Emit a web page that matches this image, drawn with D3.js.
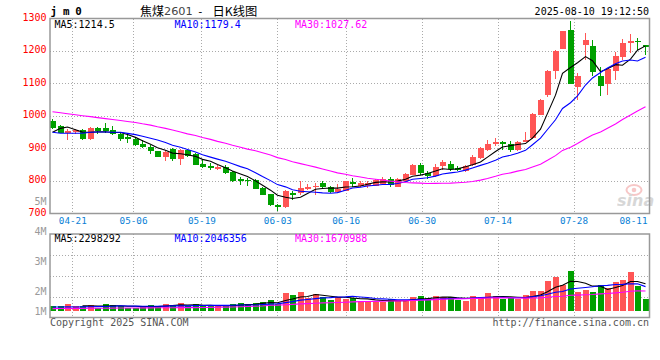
<!DOCTYPE html>
<html><head><meta charset="utf-8">
<script src="https://cdn.jsdelivr.net/npm/d3@7"></script>
<style>html,body{margin:0;padding:0;background:#fff}svg{display:block}</style>
</head><body>
<svg id="c" width="660" height="360"></svg>
<script>
// ---------- data ----------
const dates = ["04-16","04-17","04-18","04-21","04-22","04-23","04-24","04-25","04-28","04-29","04-30",
"05-06","05-07","05-08","05-09","05-12","05-13","05-14","05-15","05-16","05-19","05-20","05-21","05-22","05-23",
"05-26","05-27","05-28","05-29","05-30",
"06-03","06-04","06-05","06-06","06-09","06-10","06-11","06-12","06-13","06-16","06-17","06-18","06-19","06-20",
"06-23","06-24","06-25","06-26","06-27","06-30",
"07-01","07-02","07-03","07-04","07-07","07-08","07-09","07-10","07-11","07-14","07-15","07-16","07-17","07-18",
"07-21","07-22","07-23","07-24","07-25","07-28","07-29","07-30","07-31",
"08-01","08-04","08-05","08-06","08-07","08-08","08-11"];
const opens  = [986,969,948,951,957,930,963,962,957,945,936,930,915,906,892,874,898,868,895,882,852,846,838,844,829,805,804,802,779,759,
727,719,762,763,776,781,793,783,765,770,797,786,785,786,792,806,783,799,819,850,826,814,847,853,840,832,848,871,896,913,
921,915,894,921,932,1003,1066,1139,1207,1266,1090,1217,1214,1122,1098,1139,1182,1225,1232,1217];
const highs  = [991,972,960,961,959,966,966,979,969,948,941,934,927,912,893,895,902,898,899,887,865,854,848,848,832,813,809,806,781,760,
730,772,768,799,791,794,801,785,792,801,809,801,799,806,811,813,808,824,851,855,832,853,865,862,845,850,879,906,927,932,
924,922,923,952,1010,1051,1141,1202,1262,1291,1133,1256,1233,1151,1146,1197,1236,1253,1240,1218];
const lows   = [961,947,927,946,925,927,946,947,942,924,918,908,901,884,874,862,862,850,874,848,840,834,834,822,797,788,786,774,756,724,
707,718,743,758,771,756,775,763,764,768,783,781,778,784,788,781,781,797,818,819,807,811,834,832,830,829,846,868,893,909,
895,889,891,919,930,1002,1059,1113,1206,1097,1049,1171,1122,1062,1064,1110,1171,1194,1202,1187];
const closes = [964,949,954,956,929,963,954,955,946,929,930,911,905,892,875,890,867,895,877,850,844,839,844,826,800,800,800,776,758,725,
721,770,757,778,783,786,781,765,776,799,790,793,793,804,807,788,806,822,850,824,814,843,857,838,835,845,874,901,913,921,
913,896,919,927,1006,1049,1139,1200,1261,1098,1122,1233,1136,1093,1144,1184,1224,1230,1230,1211];
const volumes = [395000,395000,563000,395000,395000,479000,286000,563000,479000,395000,
286000,286000,395000,479000,395000,563000,479000,647000,395000,563000,
395000,395000,479000,395000,563000,672000,563000,672000,756000,899000,
563000,1513000,1319000,1597000,1126000,1403000,1176000,924000,1218000,1050000,
1092000,874000,874000,790000,790000,1050000,840000,840000,1210000,1235000,
1067000,1235000,1151000,1151000,958000,840000,1235000,1151000,1487000,1235000,
1008000,1067000,1008000,1319000,1655000,1655000,2496000,2832000,2160000,3361000,
1571000,1765000,1597000,2160000,1966000,2412000,2605000,3277000,2134000,1020000];
const ma5Lead  = [950,962,966,958];
const ma10Lead = [950,947,947,947,947,950,951,951,950];
const ma30Lead = [1013,1010,1007,1004,1001,998,995,992,989,986,983,980,976,972,967,962,957,951,945,940,934,928,922,916,910,904,898,893,887];
const volMa10Lead = [335000,338000,345000,342000,350000,360000,365000,380000,400000];
const volMa30Lead = [200000,205000,210000,215000,220000,225000,230000,235000,240000,248000,255000,258000,262000,265000,268000,272000,276000,280000,283000,287000,295000,305000,315000,328000,340000,360000,380000,400000,420000];

const priceTicks = [1300,1200,1100,1000,900,800,700];
const volTicks = [5,4,3,2,1];
const volTickLabels = ["5M","4M","3M","2M","1M"];
const dateTicks = ["04-21","05-06","05-19","06-03","06-16","06-30","07-14","07-28","08-11"];
const maLegend = ["MA5:1214.5","MA10:1179.4","MA30:1027.62"];
const volMaLegend = ["MA5:2298292","MA10:2046356","MA30:1670988"];
const titleCode = "j m 0";
const titleName = "焦煤";
const titleContract = "2601";
const titleSuffix = "日K线图";
const timestamp = "2025-08-10 19:12:50";
const copyright = "Copyright 2025 SINA.COM";
const url = "http://finance.sina.com.cn";

// ---------- layout ----------
const L = 50, R = 650, mainTop = 18.5, mainBot = 213.5, volTop = 234, volBot = 317.5, volBase = 311;
const RED = "#ff5555", GREEN = "#00a000", GRID = "#aaaaaa", BORDER = "#999999";
const MA_COLORS = ["#000000", "#0000ff", "#ff00ff"];
const MONO = "'DejaVu Sans Mono', monospace";

const svg = d3.select("#c");
const xb = d3.scaleBand().domain(dates).range([L, R]).paddingInner(0.2).paddingOuter(0.1).align(0);
const xp = d3.scalePoint().domain(dates).range([L, R]);
const y = d3.scaleLinear().domain([700, 1300]).range([mainBot, mainTop]);
const yv = d3.scaleLinear().domain([0, 6450000]).range([volBase, volTop + 0.3]);
const yvLabel = d3.scaleLinear().domain([2, 5]).range([294.7, 204.7]);

function ma(arr, n, lead) {
  return arr.map((_, i) => i >= n - 1 ? d3.mean(arr.slice(i - n + 1, i + 1)) : (lead ? lead[i] : null));
}
const cx = d => Math.round(xb(d)) + 2.5;

// ---------- grids ----------
const g = svg.append("g").attr("shape-rendering", "crispEdges");
// horizontal main grid
g.selectAll(".hg").data(priceTicks.slice(1, -1)).join("line")
  .attr("x1", L).attr("x2", R).attr("y1", v => Math.floor(y(v)) + 0.5).attr("y2", v => Math.floor(y(v)) + 0.5)
  .attr("stroke", GRID).attr("stroke-dasharray", "1,2");
// vertical grids both panels
const vx = d => Math.floor(xp(d)) + 0.5;
g.selectAll(".vg").data(dateTicks.slice(0, -1)).join("line")
  .attr("x1", vx).attr("x2", vx).attr("y1", mainTop).attr("y2", mainBot)
  .attr("stroke", GRID).attr("stroke-dasharray", "1,2");
g.selectAll(".vg2").data(dateTicks.slice(0, -1)).join("line")
  .attr("x1", vx).attr("x2", vx).attr("y1", volTop).attr("y2", volBot)
  .attr("stroke", GRID).attr("stroke-dasharray", "1,2");
// volume horizontal grid
g.selectAll(".vh").data([1, 2, 3]).join("line")
  .attr("x1", L).attr("x2", R)
  .attr("y1", k => Math.round(volTop + k * (volBot - volTop) / 4) + 0.5)
  .attr("y2", k => Math.round(volTop + k * (volBot - volTop) / 4) + 0.5)
  .attr("stroke", GRID).attr("stroke-dasharray", "1,2");

// ---------- watermark ----------
const wm = svg.append("g").attr("opacity", 0.55);
wm.append("ellipse").attr("cx", 634).attr("cy", 190).attr("rx", 7.5).attr("ry", 5)
  .attr("fill", "none").attr("stroke", "#f19a9a").attr("stroke-width", 2);
wm.append("circle").attr("cx", 634).attr("cy", 190).attr("r", 2.3).attr("fill", "#f19a9a");
wm.append("text").attr("x", 617).attr("y", 206).text("sina")
  .attr("font-family", "'DejaVu Sans', sans-serif").attr("font-weight", "bold").attr("font-style", "italic")
  .attr("font-size", 16).attr("fill", "#b8b8b8");

// ---------- candles ----------
const idx = d3.range(dates.length);
const cg = svg.append("g").attr("shape-rendering", "crispEdges");
const col = i => closes[i] >= opens[i] ? RED : GREEN;
cg.selectAll(".wick").data(idx).join("rect")
  .attr("x", i => Math.round(xb(dates[i])) + 2).attr("width", 1)
  .attr("y", i => Math.round(y(highs[i])))
  .attr("height", i => Math.max(1, Math.round(y(lows[i])) - Math.round(y(highs[i]))))
  .attr("fill", col);
cg.selectAll(".body").data(idx).join("rect")
  .attr("x", i => Math.round(xb(dates[i]))).attr("width", Math.round(xb.bandwidth()))
  .attr("y", i => Math.round(y(Math.max(opens[i], closes[i]))))
  .attr("height", i => Math.max(1, Math.round(y(Math.min(opens[i], closes[i]))) - Math.round(y(Math.max(opens[i], closes[i])))))
  .attr("fill", col);

// ---------- volume bars ----------
cg.selectAll(".vol").data(idx).join("rect")
  .attr("x", i => Math.round(xb(dates[i]))).attr("width", Math.round(xb.bandwidth()))
  .attr("y", i => Math.round(yv(volumes[i])))
  .attr("height", i => volBase - Math.round(yv(volumes[i])))
  .attr("fill", col);

// ---------- moving averages ----------
const priceMAs = [ma(closes, 5, ma5Lead), ma(closes, 10, ma10Lead), ma(closes, 30, ma30Lead)];
const volMAs = [ma(volumes, 5, null), ma(volumes, 10, volMa10Lead), ma(volumes, 30, volMa30Lead)];
const lineP = d3.line().defined(d => d[1] != null).x(d => cx(dates[d[0]])).y(d => y(d[1]));
const lineV = d3.line().defined(d => d[1] != null).x(d => cx(dates[d[0]])).y(d => yv(d[1]));
priceMAs.forEach((arr, k) => {
  svg.append("path").attr("d", lineP(arr.map((v, i) => [i, v])))
    .attr("fill", "none").attr("stroke", MA_COLORS[k]).attr("stroke-width", 1.1);
});
volMAs.forEach((arr, k) => {
  svg.append("path").attr("d", lineV(arr.map((v, i) => [i, v])))
    .attr("fill", "none").attr("stroke", MA_COLORS[k]).attr("stroke-width", 1.1);
});

// ---------- borders ----------
svg.append("rect").attr("x", L).attr("y", mainTop).attr("width", R - L - 0.5).attr("height", mainBot - mainTop)
  .attr("fill", "none").attr("stroke", BORDER).attr("stroke-width", 1.5);
svg.append("rect").attr("x", L).attr("y", volTop).attr("width", R - L - 0.5).attr("height", volBot - volTop)
  .attr("fill", "none").attr("stroke", BORDER).attr("stroke-width", 1.5);

// ---------- axis labels ----------
svg.selectAll(".pt").data(priceTicks).join("text")
  .attr("x", 46.5).attr("y", v => y(v) + 2).attr("text-anchor", "end")
  .attr("font-family", MONO).attr("font-size", 10).attr("fill", "#ff0000").text(v => v);
svg.selectAll(".vt").data(volTicks).join("text")
  .attr("x", 46.5).attr("y", v => Math.min(yvLabel(v), 314.7)).attr("text-anchor", "end")
  .attr("font-family", MONO).attr("font-size", 10).attr("fill", "#9a9a9a").text((v, i) => volTickLabels[i]);
svg.selectAll(".dt").data(dateTicks).join("text")
  .attr("x", d => Math.min(xp(d), 648 - 14.5)).attr("y", 224.3).attr("text-anchor", "middle")
  .attr("font-family", MONO).attr("font-size", 9.3).attr("fill", "#0a7fd6").text(d => d);

// ---------- legends ----------
const legX = [54.5, 174.5, 295];
maLegend.forEach((t, k) => svg.append("text").attr("x", legX[k]).attr("y", 28)
  .attr("font-family", MONO).attr("font-size", 10).attr("fill", MA_COLORS[k]).text(t));
volMaLegend.forEach((t, k) => svg.append("text").attr("x", legX[k]).attr("y", 242.3)
  .attr("font-family", MONO).attr("font-size", 10).attr("fill", MA_COLORS[k]).text(t));

// ---------- header ----------
svg.append("text").attr("x", 50.5).attr("y", 14.8).text(titleCode)
  .attr("font-family", MONO).attr("font-weight", "bold").attr("font-size", 10.8).attr("letter-spacing", -0.3).attr("fill", "#000");
const CJK = "'Noto Sans CJK SC', sans-serif";
svg.append("text").attr("x", 140).attr("y", 15.5).text(titleName)
  .attr("font-family", CJK).attr("font-size", 12).attr("fill", "#000");
svg.append("text").attr("x", 164).attr("y", 15).text(titleContract)
  .attr("font-family", "'DejaVu Sans', sans-serif").attr("font-size", 11.3).attr("fill", "#444");
svg.append("text").attr("x", 197).attr("y", 15).text("-")
  .attr("font-family", MONO).attr("font-size", 11).attr("fill", "#000");
svg.append("text").attr("x", 212.5).attr("y", 15.5).text(titleSuffix)
  .attr("font-family", CJK).attr("font-size", 12.3).attr("fill", "#000");
svg.append("text").attr("x", 649).attr("y", 15).attr("text-anchor", "end").text(timestamp)
  .attr("font-family", MONO).attr("font-size", 10).attr("fill", "#000");

// ---------- footer ----------
svg.append("text").attr("x", 50).attr("y", 325.5).text(copyright)
  .attr("font-family", MONO).attr("font-size", 10).attr("fill", "#555");
svg.append("text").attr("x", 649).attr("y", 325.5).attr("text-anchor", "end").text(url)
  .attr("font-family", MONO).attr("font-size", 10).attr("fill", "#555");
</script>
</body></html>
